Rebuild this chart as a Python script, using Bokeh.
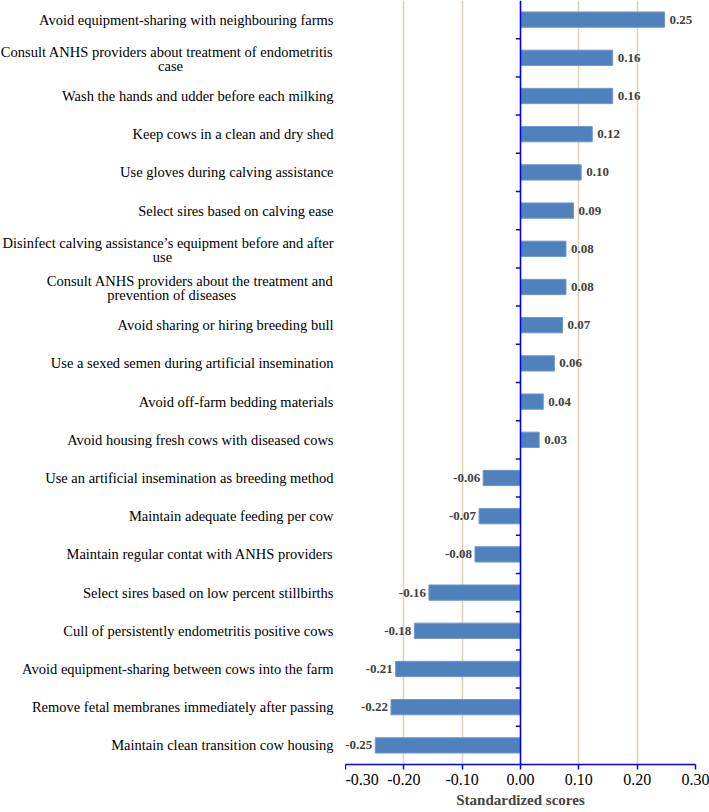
from bokeh.plotting import figure
from bokeh.layouts import row
from bokeh.models import (ColumnDataSource, Range1d, FixedTicker, LabelSet, Span,
                          NumeralTickFormatter)
from bokeh.core.properties import value
from bokeh.embed import file_html
from bokeh.resources import INLINE

practices = [
    "Avoid equipment-sharing with neighbouring farms",
    "Consult ANHS providers about treatment of endometritis\ncase",
    "Wash the hands and udder before each milking",
    "Keep cows in a clean and dry shed",
    "Use gloves during calving assistance",
    "Select sires based on calving ease",
    "Disinfect calving assistance\u2019s equipment before and after\nuse",
    "Consult ANHS providers about the treatment and\nprevention of  diseases",
    "Avoid sharing or hiring breeding bull",
    "Use a sexed semen during artificial insemination",
    "Avoid off-farm bedding materials",
    "Avoid housing fresh cows with diseased cows",
    "Use an artificial insemination as breeding method",
    "Maintain adequate feeding per cow",
    "Maintain regular contat with ANHS providers",
    "Select sires based on low percent stillbirths",
    "Cull of persistently endometritis positive cows",
    "Avoid equipment-sharing between cows into the farm",
    "Remove fetal membranes immediately after passing",
    "Maintain clean transition cow housing",
]
scores = [0.247, 0.158, 0.158, 0.123, 0.104, 0.091, 0.078, 0.078, 0.072, 0.058,
          0.039, 0.032, -0.064, -0.071, -0.078, -0.157, -0.182, -0.214, -0.222, -0.249]
x_ticks = [-0.3, -0.2, -0.1, 0.0, 0.1, 0.2, 0.3]

SERIF = "Liberation Serif"
n = len(practices)
ypos = [n - i - 0.5 for i in range(n)]
labels = [f"{v:.2f}" for v in scores]
yr = Range1d(0, n)

H = 812
BOTTOM = 48

# ---------------- left panel: practice names ----------------
LW = 345
RIGHT_X = 333
second_center = {1: 170, 6: 162, 7: 173}   # horizontal centre of wrapped 2nd lines (px)

one_x, one_y, one_t = [], [], []
two_x, two_y, two_t = [], [], []
for i, (lab, y) in enumerate(zip(practices, ypos)):
    parts = lab.split("\n")
    if len(parts) == 1:
        one_x.append(RIGHT_X); one_y.append(y); one_t.append(lab)
    else:
        one_x.append(RIGHT_X); one_y.append(y + 0.16); one_t.append(parts[0])
        two_x.append(second_center[i]); two_y.append(y - 0.21); two_t.append(parts[1])

left = figure(width=LW, height=H, output_backend="svg", toolbar_location=None,
              x_range=Range1d(0, LW), y_range=yr,
              x_axis_location=None, y_axis_location=None,
              min_border_left=0, min_border_right=0, min_border_top=0,
              min_border_bottom=BOTTOM)
left.outline_line_color = None
left.grid.grid_line_color = None
left.text(x=one_x, y=one_y, text=one_t, text_align="right", text_baseline="middle",
          text_font=value(SERIF), text_font_size="14.5px", text_color="black")
left.text(x=two_x, y=two_y, text=two_t, text_align="center", text_baseline="middle",
          text_font=value(SERIF), text_font_size="14.5px", text_color="black")

# ---------------- right panel: bars ----------------
pos = ColumnDataSource(dict(
    x=[v for v in scores if v >= 0],
    y=[y for y, v in zip(ypos, scores) if v >= 0],
    t=[t for t, v in zip(labels, scores) if v >= 0]))
neg = ColumnDataSource(dict(
    x=[v for v in scores if v < 0],
    y=[y for y, v in zip(ypos, scores) if v < 0],
    t=[t for t, v in zip(labels, scores) if v < 0]))

p = figure(width=364, height=H, output_backend="svg", toolbar_location=None,
           x_range=Range1d(-0.3, 0.3), y_range=yr, y_axis_location=None,
           min_border_left=0, min_border_right=14, min_border_top=0,
           min_border_bottom=BOTTOM)
p.outline_line_color = None

src = ColumnDataSource(dict(y=ypos, v=scores))
p.hbar(y="y", left=0, right="v", height=0.4, source=src,
       fill_color="#4F81BD", line_color="#6f97c9", line_width=1)

p.add_layout(Span(location=0, dimension="height", line_color="#0000FF", line_width=1.5))
bounds = list(range(1, n))
p.segment(x0=[-0.008] * len(bounds), x1=[0] * len(bounds), y0=bounds, y1=bounds,
          line_color="#0000FF", line_width=1.5)

p.add_layout(LabelSet(x="x", y="y", text="t", source=pos, x_offset=5,
                      text_align="left", text_baseline="middle",
                      text_font=value(SERIF), text_font_style="bold",
                      text_font_size="13px", text_color="#404040"))
p.add_layout(LabelSet(x="x", y="y", text="t", source=neg, x_offset=-3,
                      text_align="right", text_baseline="middle",
                      text_font=value(SERIF), text_font_style="bold",
                      text_font_size="13px", text_color="#404040"))

p.xaxis.ticker = FixedTicker(ticks=x_ticks)
p.xaxis.formatter = NumeralTickFormatter(format="0.00")
p.xaxis.axis_line_color = "#0000FF"
p.xaxis.axis_line_width = 1.5
p.xaxis.major_tick_line_color = "#0000FF"
p.xaxis.major_tick_line_width = 1.5
p.xaxis.major_tick_in = 0
p.xaxis.major_tick_out = 5
p.xaxis.minor_tick_line_color = None
p.xaxis.major_label_text_font = SERIF
p.xaxis.major_label_text_font_size = "16px"
p.xaxis.major_label_text_color = "black"
p.xaxis.major_label_standoff = 4
p.xaxis.axis_label = "Standardized scores"
p.xaxis.axis_label_text_font = SERIF
p.xaxis.axis_label_text_font_size = "15px"
p.xaxis.axis_label_text_font_style = "bold"
p.xaxis.axis_label_standoff = 4

p.xgrid.ticker = FixedTicker(ticks=x_ticks)
p.xgrid.grid_line_color = "#D8D3B6"
p.xgrid.grid_line_width = 1.5
p.ygrid.grid_line_color = None

layout = row(left, p)
open("out.html", "w").write(file_html(layout, INLINE))
